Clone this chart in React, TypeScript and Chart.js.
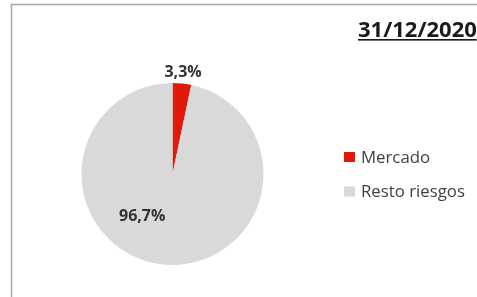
import React, { useEffect, useRef } from "react";
import { Chart, registerables } from "chart.js";

Chart.register(...registerables);

const categories = ["Mercado", "Resto riesgos"];
const values = [3.3, 96.7];
const colors = ["#DF1A0C", "#D9D9D9"];
const titleText = "31/12/2020";

const fmt = (v: number) => v.toFixed(1).replace(".", ",") + "%";

const overlayPlugin = {
  id: "overlay",
  beforeDraw(chart: any) {
    const ctx = chart.ctx;
    ctx.save();
    ctx.fillStyle = "#ffffff";
    ctx.fillRect(0, 0, chart.width, chart.height);
    ctx.strokeStyle = "#A8A8A8";
    ctx.lineWidth = 1.5;
    ctx.beginPath();
    ctx.moveTo(11.5, chart.height + 2);
    ctx.lineTo(11.5, 4.5);
    ctx.lineTo(chart.width + 2, 4.5);
    ctx.stroke();
    ctx.restore();
  },
  afterDraw(chart: any) {
    const ctx = chart.ctx;
    ctx.save();
    // title
    ctx.fillStyle = "#1a1a1a";
    ctx.font = "bold 22px 'Open Sans'";
    ctx.textBaseline = "alphabetic";
    ctx.textAlign = "left";
    ctx.fillText(titleText, 358, 37);
    const tw = ctx.measureText(titleText).width;
    ctx.fillRect(358, 39, tw, 1.6);

    // legend
    ctx.font = "16.8px 'Open Sans'";
    categories.forEach((c, i) => {
      const y = 157 + i * 34.5;
      ctx.fillStyle = colors[i];
      ctx.fillRect(344, y - 5, 11, 10);
      ctx.fillStyle = "#404040";
      ctx.textBaseline = "middle";
      ctx.fillText(c, 361, y + 1);
    });

    // data labels
    const meta = chart.getDatasetMeta(0);
    ctx.font = "bold 16px 'Open Sans'";
    ctx.textAlign = "center";
    ctx.textBaseline = "middle";
    ctx.fillStyle = "#333333";
    meta.data.forEach((arc: any, i: number) => {
      const p = arc.getProps(["x", "y", "startAngle", "endAngle", "outerRadius"], true);
      let ang: number, r: number;
      if (i === 0) {
        ang = (p.startAngle + p.endAngle) / 2;
        r = p.outerRadius + 11;
      } else {
        ang = (p.startAngle + p.endAngle) / 2 + 0.52;
        r = p.outerRadius * 0.57;
      }
      ctx.fillText(fmt(values[i]), p.x + Math.cos(ang) * r, p.y + Math.sin(ang) * r);
    });
    ctx.restore();
  },
};

export default function App() {
  const ref = useRef<HTMLCanvasElement>(null);
  useEffect(() => {
    if (!ref.current) return;
    const chart = new Chart(ref.current, {
      type: "pie",
      data: {
        labels: categories,
        datasets: [
          {
            data: values,
            backgroundColor: colors,
            borderWidth: 0,
          },
        ],
      },
      options: {
        responsive: false,
        animation: false,
        devicePixelRatio: 1,
        layout: { padding: { left: 80, right: 212, top: 83, bottom: 32 } },
        plugins: {
          legend: { display: false },
          tooltip: { enabled: false },
          title: { display: false },
        },
      },
      plugins: [overlayPlugin],
    });
    return () => chart.destroy();
  }, []);
  return (
    <div style={{ position: "absolute", left: 0, top: 0, width: 477, height: 297 }}>
      <canvas ref={ref} width={477} height={297} style={{ display: "block" }} />
    </div>
  );
}
